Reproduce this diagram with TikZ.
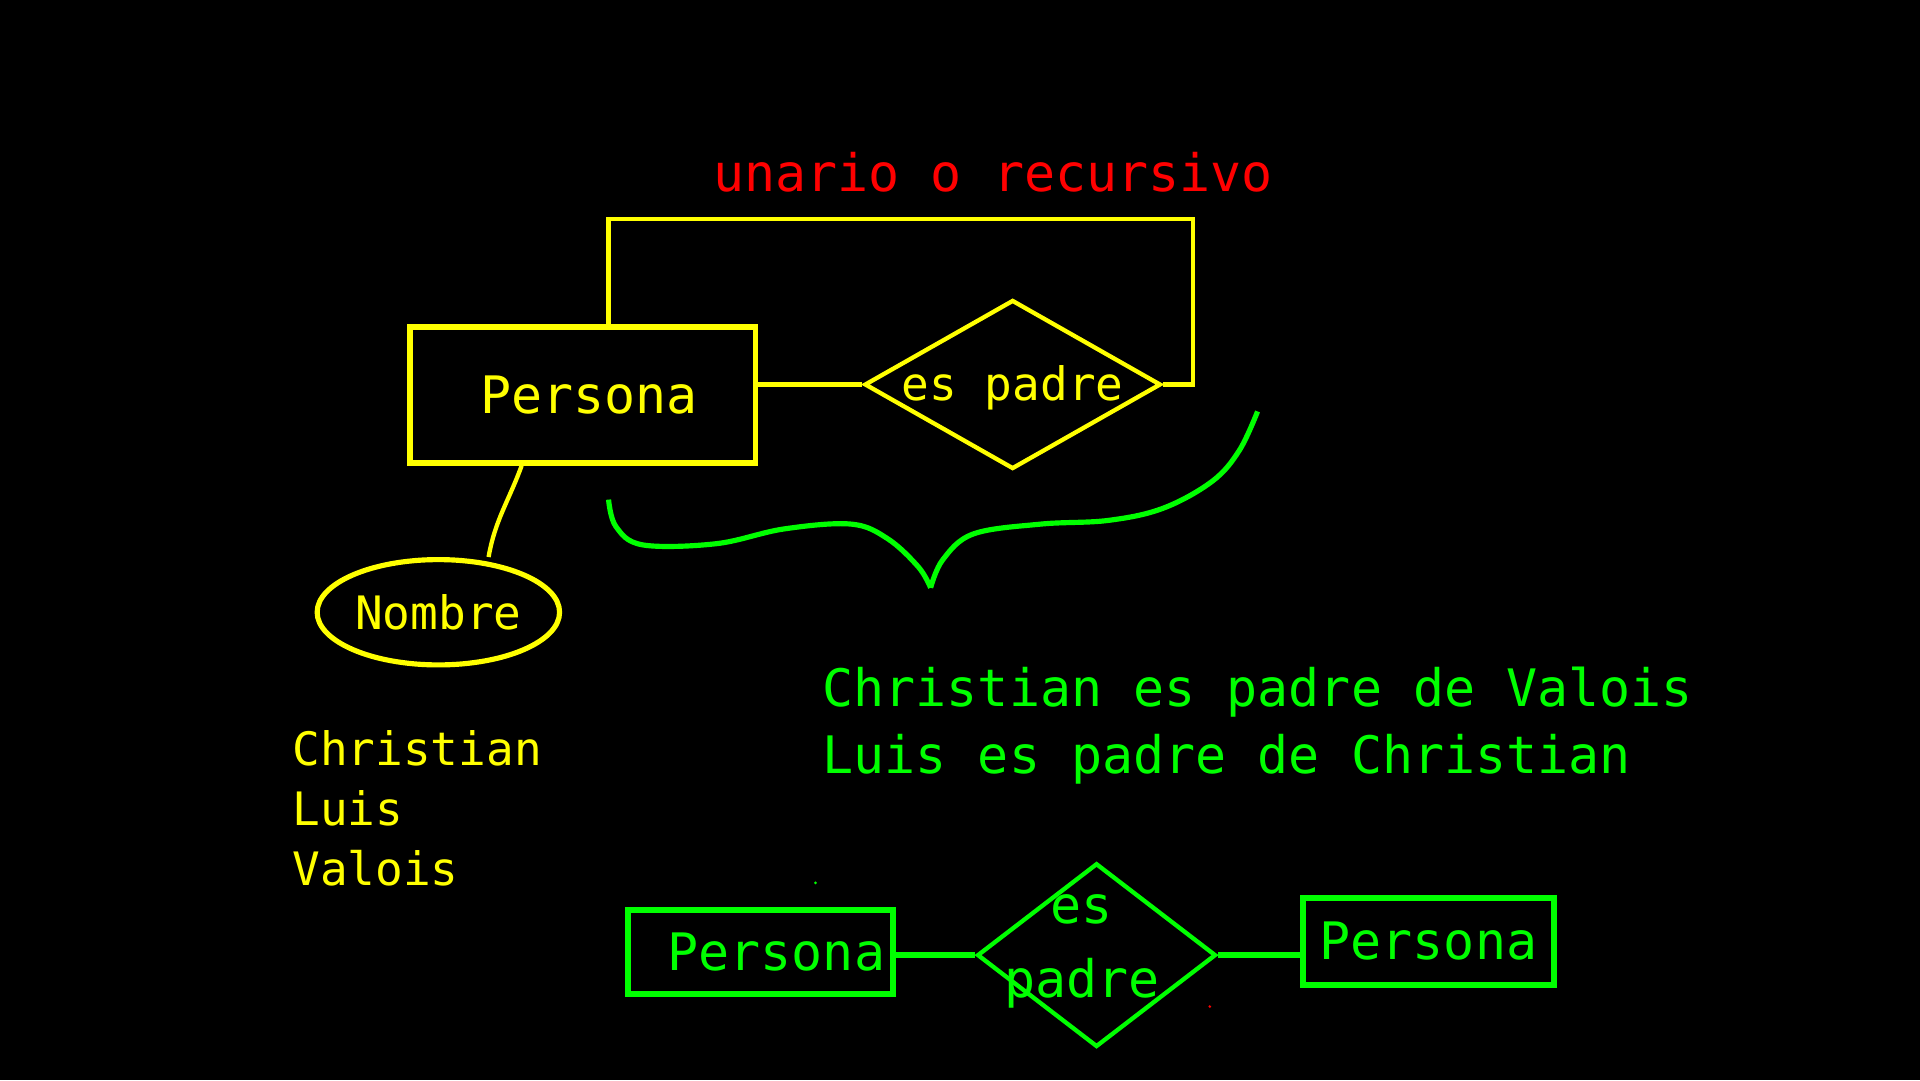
\documentclass[tikz,border=0pt]{standalone}
\usepackage{fontspec}
\setmainfont{DejaVu Sans Mono}
\usetikzlibrary{shapes.geometric}
\definecolor{amar}{RGB}{255,255,0}
\definecolor{verde}{RGB}{0,255,0}
\definecolor{rojo}{RGB}{255,0,0}

\begin{document}
\begin{tikzpicture}[entidad/.style={draw, rectangle, inner sep=0pt},
 relacion/.style={draw, diamond, inner sep=0pt},
 atributo/.style={draw, ellipse, inner sep=0pt},
 f12/.style={font=\fontsize{12}{15.6}\selectfont},
 f11/.style={font=\fontsize{10.7}{13.9}\selectfont}] % fondo negro
\fill[black] (0,0) rectangle (15.68,8.82);
%%
\node[rojo, f12] (titulo) at (8.11,7.41) {unario o recursivo};
%% diagrama amarillo
\node[entidad, amar, line width=1.3pt, f12, minimum width=2.82cm, minimum height=1.11cm] (persona) at (4.76,5.595) {\hspace*{0.1cm}Persona};
\node[relacion, amar, line width=1pt, minimum width=2.42cm, minimum height=1.38cm,
 label={[amar, f11, yshift=-0.3mm]center:es padre}] (espadre) at (8.27,5.68) {};
\coordinate (vuelta) at (9.74,7.03);
\draw[amar, line width=1pt] (persona.east |- espadre.west) -- (espadre.west);
\draw[amar, line width=1pt] ([xshift=2.1mm]persona.north) |- (vuelta) |- (espadre.east);
\node[atributo, amar, line width=1.2pt, f11, minimum width=1.98cm, minimum height=0.86cm] (nombre) at (3.58,3.82) {Nombre};
\draw[amar, line width=1pt] ([xshift=-5mm]persona.south) to[out=-110,in=80] ([xshift=4.1mm]nombre.north);
\node[amar, f11, align=left, anchor=base west, inner sep=0pt] (nombres) at (2.38,1.59) {Christian\\Luis\\Valois};
%% llave verde
\draw[verde, line width=1.2pt] plot[smooth, tension=0.6] coordinates {(4.97,4.74) (5.03,4.52) (5.25,4.37) (5.85,4.38) (6.40,4.50) (6.95,4.54) (7.25,4.42) (7.50,4.19) (7.60,4.02)};
\draw[verde, line width=1.2pt] plot[smooth, tension=0.6] coordinates {(7.60,4.02) (7.70,4.25) (7.95,4.46) (8.50,4.54) (9.05,4.57) (9.50,4.67) (9.90,4.89) (10.12,5.14) (10.27,5.46)};
\node[verde, f12, align=left, anchor=base west, inner sep=0pt] (ejemplos) at (6.71,2.50) {Christian es padre de Valois\\Luis es padre de Christian};
%% diagrama verde
\node[entidad, verde, line width=1.4pt, f12, minimum width=2.16cm, minimum height=0.69cm] (persona1) at (6.21,1.045) {\hspace*{0.26cm}Persona};
\node[relacion, verde, line width=1pt, minimum width=1.95cm, minimum height=1.5cm,
 label={[verde, f12, align=center, xshift=-1.2mm, yshift=0.3mm, font=\fontsize{12}{17}\selectfont]center:es\\padre}] (espadre2) at (8.955,1.02) {};
\node[entidad, verde, line width=1.4pt, f12, minimum width=2.05cm, minimum height=0.71cm] (persona2) at (11.665,1.135) {Persona};
\draw[verde, line width=1.5pt] (persona1.east |- espadre2.west) -- (espadre2.west);
\draw[verde, line width=1.5pt] (espadre2.east) -- (espadre2.east -| persona2.west);
%% puntos sueltos
\fill[verde] (6.66,1.61) circle (0.012);
\fill[rojo] (9.88,0.60) circle (0.012);
\end{tikzpicture}
\end{document}
